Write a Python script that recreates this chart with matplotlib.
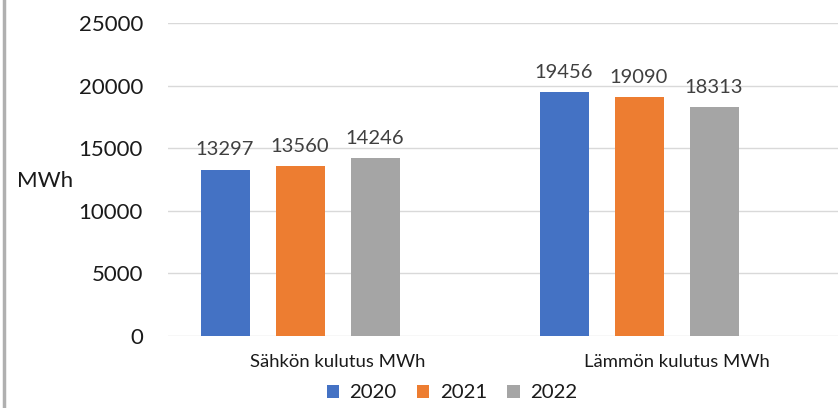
import matplotlib.pyplot as plt
from matplotlib.lines import Line2D
import numpy as np

categories = ["Sähkön kulutus MWh", "Lämmön kulutus MWh"]
years = ["2020", "2021", "2022"]
values_2020 = [13297, 19456]
values_2021 = [13560, 19090]
values_2022 = [14246, 18313]
colors = ["#4472C4", "#ED7D31", "#A5A5A5"]

plt.rcParams['font.family'] = ['Lato', 'DejaVu Sans']

fig = plt.figure(figsize=(8.38, 4.08), dpi=100)
ax = fig.add_axes([168 / 838, 1 - 336 / 408, 1 - 168 / 838, (336 - 23) / 408])

x = np.arange(len(categories))
n_slots = 4  # the original chart keeps room for a fourth, empty series
step = 75 / 339
width = 49 / 339

for i, (vals, year, col) in enumerate(zip([values_2020, values_2021, values_2022], years, colors)):
    pos = x + (i - (n_slots - 1) / 2) * step
    bars = ax.bar(pos, vals, width=width, color=col, label=year, zorder=3)
    for b, v in zip(bars, vals):
        ax.annotate(str(v), (b.get_x() + b.get_width() / 2, v), xytext=(0, 8),
                    textcoords="offset points", ha="center", va="bottom",
                    fontsize=14.5, color="#404040")

ax.set_ylim(0, 25000)
ax.set_xlim(-0.5, 1.5 - 8 / 339)
ax.set_yticks(range(0, 25001, 5000))
ax.set_xticks(x)
ax.set_xticklabels(categories)
ax.grid(axis="y", color="#d9d9d9", linewidth=1, zorder=0)
for s in ax.spines.values():
    s.set_visible(False)
ax.tick_params(axis="y", length=0, pad=18, labelsize=16, labelcolor="#1a1a1a")
ax.tick_params(axis="x", length=0, pad=13, labelsize=13.3, labelcolor="#1a1a1a")

fig.text(17 / 838, 1 - 181 / 408, "MWh", fontsize=16, color="#1a1a1a", va="center", ha="left")

handles, labels = ax.get_legend_handles_labels()
fig.legend(handles, labels, loc="center", bbox_to_anchor=(452 / 838, 1 - 393 / 408),
           ncol=3, frameon=False, fontsize=14.7, handlelength=0.6, handleheight=0.6,
           handletextpad=0.5, columnspacing=1.0, labelcolor="#1a1a1a")

fig.add_artist(Line2D([4 / 838, 4 / 838], [0, 1], color="#b0b0b0", linewidth=2.5,
                      transform=fig.transFigure))

fig.savefig("out.png", dpi=100)
